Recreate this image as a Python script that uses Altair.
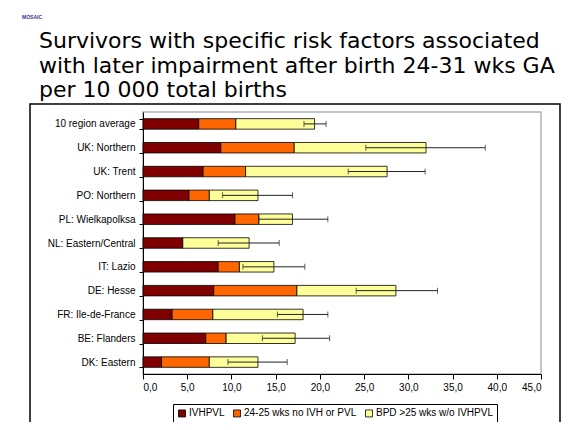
import altair as alt
import pandas as pd

CATEGORIES = ["10 region average", "UK: Northern", "UK: Trent", "PO: Northern",
              "PL: Wielkapolksa", "NL: Eastern/Central", "IT: Lazio", "DE: Hesse",
              "FR: Ile-de-France", "BE: Flanders", "DK: Eastern"]
SERIES = ["IVHPVL", "24-25 wks no IVH or PVL", "BPD >25 wks w/o IVHPVL"]
IVHPVL = [6.3, 8.8, 6.8, 5.2, 10.4, 4.5, 8.5, 8.0, 3.3, 7.1, 2.1]
WKS_24_25 = [4.2, 8.3, 4.8, 2.3, 2.7, 0.0, 2.4, 9.4, 4.6, 2.3, 5.4]
BPD = [8.9, 14.9, 16.0, 5.5, 3.8, 7.5, 3.9, 11.2, 10.2, 7.8, 5.5]
ERR_LOW = [18.2, 25.2, 23.2, 9.0, 13.1, 8.5, 11.3, 24.1, 15.2, 13.5, 9.6]
ERR_HIGH = [20.7, 38.7, 31.9, 16.9, 20.9, 15.4, 18.3, 33.3, 20.9, 21.1, 16.3]
COLORS = ["#800000", "#FF6600", "#FFFF99"]
X_TICKS = [0, 5, 10, 15, 20, 25, 30, 35, 40, 45]
TITLE_LINES = ["Survivors with specific risk factors associated",
               "with later impairment after birth 24-31 wks GA",
               "per 10 000 total births"]

rows = []
for i, cat in enumerate(CATEGORIES):
    for j, vals in enumerate([IVHPVL, WKS_24_25, BPD]):
        rows.append({"category": cat, "series": SERIES[j], "value": vals[i], "order": j})
df = pd.DataFrame(rows)
err = pd.DataFrame({"category": CATEGORIES, "lo": ERR_LOW, "hi": ERR_HIGH})

FONT = "Liberation Sans"

y_enc = alt.Y("category:N", sort=CATEGORIES,
              scale=alt.Scale(paddingInner=0.56, paddingOuter=0.28),
              axis=alt.Axis(title=None, labelFont=FONT, labelFontSize=10, labelColor="black",
                            labelPadding=4, tickSize=4, tickColor="black", domainColor="black",
                            tickBand="extent", labelLimit=200))

bars = alt.Chart(df).mark_bar(stroke="black", strokeWidth=0.8).encode(
    x=alt.X("value:Q", stack="zero",
            scale=alt.Scale(domain=[0, 45], nice=False),
            axis=alt.Axis(title=None, values=X_TICKS, grid=False,
                          labelExpr="replace(format(datum.value, '.1f'), '.', ',')",
                          labelFont=FONT, labelFontSize=10, labelColor="black",
                          tickSize=5, tickColor="black", domainColor="black", labelPadding=3)),
    y=y_enc,
    color=alt.Color("series:N", scale=alt.Scale(domain=SERIES, range=COLORS),
                    legend=alt.Legend(title=None, orient="none", legendX=30, legendY=292,
                                      direction="horizontal", symbolType="square",
                                      symbolSize=49, symbolStrokeColor="black",
                                      symbolStrokeWidth=0.8, labelFont=FONT, labelFontSize=10,
                                      labelColor="black", labelOffset=2, columnPadding=6,
                                      strokeColor="black", padding=4, labelLimit=300)),
    order=alt.Order("order:Q"),
)

rule = alt.Chart(err).mark_rule(color="#222222", strokeWidth=1).encode(
    x="lo:Q", x2="hi:Q", y=alt.Y("category:N", sort=CATEGORIES))
cap_lo = alt.Chart(err).mark_tick(color="#222222", thickness=1, size=6).encode(
    x="lo:Q", y=alt.Y("category:N", sort=CATEGORIES))
cap_hi = alt.Chart(err).mark_tick(color="#222222", thickness=1, size=6).encode(
    x="hi:Q", y=alt.Y("category:N", sort=CATEGORIES))

frame = alt.Chart(pd.DataFrame({"a": [0]})).mark_rect(
    filled=False, stroke="black", strokeWidth=1.5).encode(
    x=alt.value(-113), x2=alt.value(417), y=alt.value(-8), y2=alt.value(330))

logo = alt.Chart(pd.DataFrame({"a": [0]})).mark_text(
    text="MOSAIC", fontSize=5, color="#333399", align="left", font=FONT, fontWeight="bold").encode(
    x=alt.value(-121), y=alt.value(-95))

title = alt.Chart(pd.DataFrame({"a": [0]})).mark_text(
    text=TITLE_LINES, fontSize=22, font="DejaVu Sans", color="black", align="left",
    baseline="alphabetic", lineHeight=24.5).encode(
    x=alt.value(-104), y=alt.value(-64))

chart = alt.layer(frame, bars, rule, cap_lo, cap_hi, logo, title).properties(
    width=398, height=262,
    autosize=alt.AutoSizeParams(type="none"),
    padding={"left": 135, "top": 104, "right": 25, "bottom": 48},
).configure_view(stroke="#b3b3b3", strokeWidth=1.5)

chart.save("out.html", embed_options={"renderer": "svg", "actions": False})
